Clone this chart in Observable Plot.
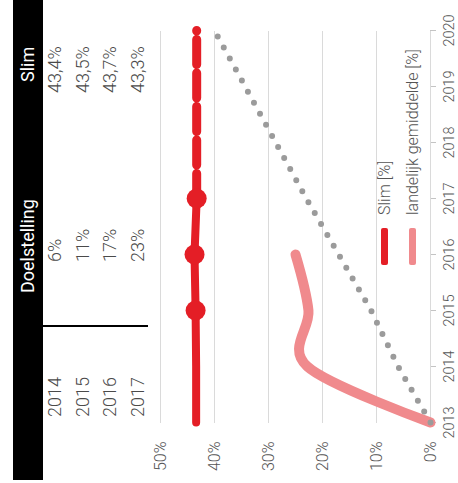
<!DOCTYPE html>
<html>
<head>
<meta charset="utf-8">
<script src="https://cdn.jsdelivr.net/npm/d3@7"></script>
<script src="https://cdn.jsdelivr.net/npm/@observablehq/plot@0.6"></script>
<style>
  html, body { margin: 0; padding: 0; background: #fff; }
  body { width: 458px; height: 483px; overflow: hidden; position: relative; }
  #chart {
    position: absolute; left: 0; top: 0; width: 483px; height: 458px;
    transform-origin: 0 0; transform: translate(0px, 483px) rotate(-90deg);
    font-family: Roboto, "Open Sans", sans-serif; font-weight: 300; color: #555;
  }
  #chart svg { position: absolute; left: 0; top: 0; overflow: visible; }
  #chart svg g[aria-label^="x-axis"] line, #chart svg g[aria-label^="x-axis"] path { stroke: #c4c4c4; }
  #chart svg g[aria-label^="x-axis"] text { font-size: 14.5px; fill: #555; }
  #chart svg g[aria-label^="y-axis"] text { font-size: 16px; fill: #555; }
  .abs { position: absolute; white-space: nowrap; line-height: 1; }
  .hdr { color: #fff; font-size: 18px; font-weight: 400; }
  .cell { font-size: 18px; color: #4a4a4a; }
  .lg { font-size: 16px; color: #555; }
  .sw { position: absolute; width: 37px; height: 7px; border-radius: 2px; }
</style>
</head>
<body>
<div id="chart"></div>
<script>
// ---- data ----
const yearTicks = [2013, 2014, 2015, 2016, 2017, 2018, 2019, 2020];
const pctTicks = [0, 10, 20, 30, 40, 50];

// Slim (realised), solid part
const slimYears = [2013, 2014, 2015, 2016, 2017];
const slimValues = [43.4, 43.4, 43.5, 43.7, 43.3];
// markers on the Slim line
const slimDotYears = [2015, 2016, 2017];
const slimDotValues = [43.5, 43.7, 43.3];
// Slim forecast (dashed)
const slimForecastYears = [2017, 2020];
const slimForecastValues = [43.3, 43.3];

// Doelstelling (target, dotted grey)
const doelYears = [2013, 2014, 2015, 2016, 2017, 2020];
const doelValues = [0, 6, 11, 17, 23, 40];

// landelijk gemiddelde (national average)
const landYears = [2013, 2014, 2015, 2016];
const landValues = [0, 22.8, 22.6, 25];

// table
const tableYears = [2014, 2015, 2016, 2017];
const tableDoel = [6, 11, 17, 23];
const tableSlim = [43.4, 43.5, 43.7, 43.3];
const tableHeaders = ["Doelstelling", "Slim"];
const legendLabels = ["Slim [%]", "landelijk gemiddelde [%]"];

const RED = "#e41e26", PINK = "#f08a8d", GREY = "#9b9b9b";

const zip = (xs, ys) => xs.map((x, i) => ({x, y: ys[i]}));

const plot = Plot.plot({
  width: 483,
  height: 458,
  marginLeft: 60,
  marginRight: 31,
  marginTop: 160,
  marginBottom: 28,
  style: {fontFamily: "Roboto, sans-serif", fontSize: "15px", color: "#555", background: "transparent"},
  x: {domain: [2013, 2020], ticks: yearTicks, tickFormat: "d", tickSize: 6, tickPadding: 7, label: null},
  y: {domain: [0, 50], ticks: pctTicks, tickFormat: d => d + "%", tickSize: 0, tickPadding: 19, label: null},
  marks: [
    Plot.ruleY(pctTicks, {stroke: "#dadada", strokeWidth: 1}),
    Plot.line(zip(landYears, landValues), {x: "x", y: "y", curve: "cardinal", stroke: PINK, strokeWidth: 10, strokeLinecap: "round", strokeLinejoin: "round"}),
    Plot.line(zip(doelYears, doelValues), {x: "x", y: "y", stroke: GREY, strokeWidth: 6, strokeDasharray: "0 12.6", strokeLinecap: "round"}),
    Plot.line(zip(slimForecastYears, slimForecastValues), {x: "x", y: "y", stroke: RED, strokeWidth: 9, strokeDasharray: "25 8.5"}),
    Plot.line(zip(slimYears, slimValues), {x: "x", y: "y", stroke: RED, strokeWidth: 8}),
    Plot.dot(zip(slimDotYears, slimDotValues), {x: "x", y: "y", r: 10, fill: RED, stroke: null})
  ]
});
const chart = document.getElementById("chart");
chart.appendChild(plot);

function add(cls, text, style) {
  const el = document.createElement("div");
  el.className = cls;
  if (text != null) el.textContent = text;
  Object.assign(el.style, style);
  chart.appendChild(el);
  return el;
}

// table header bar
add("abs", null, {left: "3px", top: "13px", width: "480px", height: "30px", background: "#000"});
add("abs hdr", tableHeaders[0], {left: "190px", top: "19px"});
add("abs hdr", tableHeaders[1], {left: "401px", top: "19px"});
// separator line
add("abs", null, {left: "156px", top: "43px", width: "2px", height: "105px", background: "#000"});
// table rows
const fmt = v => String(v).replace(".", ",") + "%";
tableYears.forEach((yr, i) => {
  const top = (46 + 27.5 * i) + "px";
  add("abs cell", String(yr), {left: "66px", top});
  add("abs cell", tableDoel[i] + "%", {left: "221px", top});
  add("abs cell", fmt(tableSlim[i]), {left: "390px", top});
});

// legend
add("sw", null, {left: "218px", top: "381px", background: RED});
add("abs lg", legendLabels[0], {left: "268px", top: "377px"});
add("sw", null, {left: "218px", top: "409px", background: PINK});
add("abs lg", legendLabels[1], {left: "268px", top: "405px"});
</script>
</body>
</html>
